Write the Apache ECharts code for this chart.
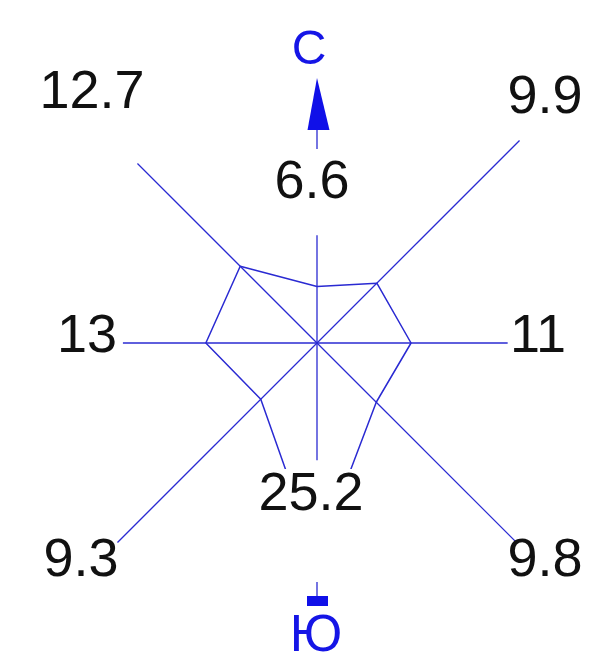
<!DOCTYPE html>
<html>
<head>
<meta charset="utf-8">
<script src="https://cdn.jsdelivr.net/npm/echarts@6/dist/echarts.min.js"></script>
<style>
  html, body { margin: 0; padding: 0; background: #fff; }
  #main { width: 597px; height: 659px; }
</style>
</head>
<body>
<div id="main"></div>
<script>
// wind rose data
const directions = ["С", "СВ", "В", "ЮВ", "Ю", "ЮЗ", "З", "СЗ"];
const bearings = [0, 45, 90, 135, 180, 225, 270, 315];
const frequencies = [6.6, 9.9, 11, 9.8, 25.2, 9.3, 13, 12.7];

// layout
const center = [317, 343];
const pxPerUnit = 8.55;
const rMax = 40;
const spokeLen = [12.6, 33.5, 22.3, 32.9, 13.7, 33.0, 22.7, 29.7];
const labelPos = [[312, 183], [545, 98], [538, 337], [545, 561], [311, 495], [81, 561], [87, 337], [92, 93]];
const blue = "#2a2ad2";

let chart = echarts.init(document.getElementById("main"));

let rose = bearings.map((b, i) => [frequencies[i], b]);
rose.push(rose[0]);

let labels = frequencies.map((v, i) => ({
  type: "text",
  z: 110,
  style: {
    text: String(v),
    x: labelPos[i][0],
    y: labelPos[i][1],
    align: "center",
    verticalAlign: "middle",
    font: "54px 'Liberation Sans', Arial, sans-serif",
    fill: "#111"
  }
}));

chart.setOption({
  animation: false,
  backgroundColor: "#fff",
  polar: { center: center, radius: rMax * pxPerUnit },
  angleAxis: { type: "value", min: 0, max: 360, startAngle: 90, clockwise: true, show: false },
  radiusAxis: { type: "value", min: 0, max: rMax, show: false },
  series: [
    {
      type: "custom",
      coordinateSystem: "polar",
      data: bearings.map((b, i) => [spokeLen[i], b]),
      renderItem: function (params, api) {
        let p0 = api.coord([0, api.value(1)]);
        let p1 = api.coord([api.value(0), api.value(1)]);
        return {
          type: "line",
          shape: { x1: p0[0], y1: p0[1], x2: p1[0], y2: p1[1] },
          style: { stroke: blue, lineWidth: 1.3 }
        };
      }
    },
    {
      type: "line",
      coordinateSystem: "polar",
      data: rose,
      symbol: "none",
      lineStyle: { color: blue, width: 1.5 }
    }
  ],
  graphic: [
    // cover under the south value, as in the source drawing
    { type: "rect", z: 100, shape: { x: 262, y: 469, width: 100, height: 96 }, style: { fill: "#fff" } },
    // north arrow
    { type: "polygon", z: 100, shape: { points: [[317, 78], [307.5, 130], [329.5, 130]] }, style: { fill: "#1010e8" } },
    { type: "line", z: 100, shape: { x1: 317, y1: 130, x2: 317, y2: 149 }, style: { stroke: blue, lineWidth: 1.3 } },
    // south marker
    { type: "line", z: 100, shape: { x1: 317, y1: 582, x2: 317, y2: 597 }, style: { stroke: blue, lineWidth: 1.3 } },
    { type: "rect", z: 100, shape: { x: 307, y: 596, width: 21, height: 10 }, style: { fill: "#1010e8" } },
    {
      type: "text", z: 110,
      style: { text: directions[0], x: 309, y: 51, align: "center", verticalAlign: "middle", font: "48px 'Liberation Sans', Arial, sans-serif", fill: "#1515e6" }
    },
    {
      type: "text", z: 110,
      style: { text: directions[4], x: 316, y: 637, align: "center", verticalAlign: "middle", font: "52px 'Liberation Sans', Arial, sans-serif", fill: "#1515e6" }
    }
  ].concat(labels)
});
</script>
</body>
</html>
